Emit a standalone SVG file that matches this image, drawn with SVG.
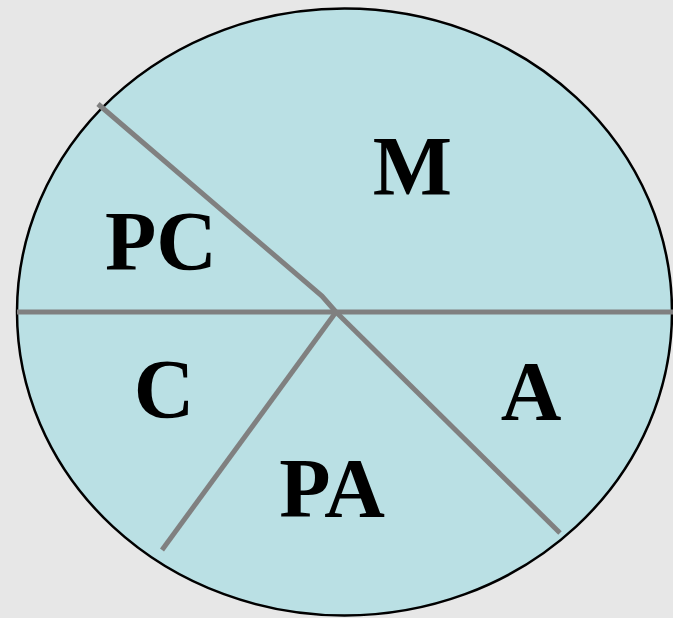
<svg xmlns="http://www.w3.org/2000/svg" width="673" height="618" viewBox="0 0 673 618">
<style>
.lbl{font-family:"Liberation Serif","Times New Roman",serif;font-weight:bold;font-size:84px;fill:#000;text-anchor:middle}
.div{stroke:#808080;stroke-width:5;fill:none}
</style>
<rect width="673" height="618" fill="#e7e7e7"/>
<g id="pie">
<ellipse cx="344.5" cy="312" rx="327.5" ry="303.5" fill="#bae0e4" stroke="#000" stroke-width="2.5"/>
</g>
<g id="connectors">
<line class="div" x1="17" y1="312" x2="673" y2="312"/>
<polyline class="div" points="98,104 322,296 336,312"/>
<line class="div" x1="336" y1="312" x2="560" y2="533"/>
<line class="div" x1="336" y1="312" x2="162" y2="550"/>
</g>
<g id="M"><text class="lbl" x="412.5" y="195">M</text></g>
<g id="PC"><text class="lbl" x="161" y="270">PC</text></g>
<g id="C"><text class="lbl" x="164" y="418">C</text></g>
<g id="A"><text class="lbl" x="531" y="420">A</text></g>
<g id="PA"><text class="lbl" x="332" y="517">PA</text></g>
</svg>
